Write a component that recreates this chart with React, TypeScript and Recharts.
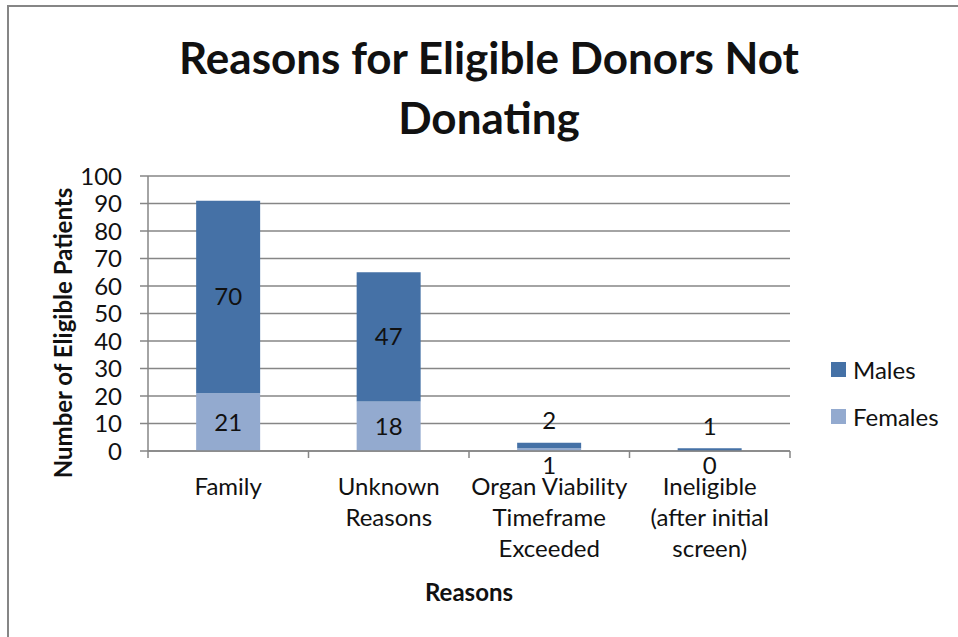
import { BarChart, Bar, XAxis, YAxis, CartesianGrid, LabelList } from 'recharts'

const categories = [
  'Family',
  'Unknown\nReasons',
  'Organ Viability\nTimeframe\nExceeded',
  'Ineligible\n(after initial\nscreen)',
]
const females = [21, 18, 1, 0]
const males = [70, 47, 2, 1]
const yTicks = [0, 10, 20, 30, 40, 50, 60, 70, 80, 90, 100]

const MALE = '#4571a6'
const FEMALE = '#93aacf'
const GRID = '#868686'
const FONT = 'Lato, "Open Sans", sans-serif'

const data = categories.map((name, i) => ({
  name,
  females: females[i],
  males: males[i],
}))

function CategoryTick(props: any) {
  const { x, y, payload, index, visibleTicksCount } = props
  const half = payload.offset || 0
  const lines = String(payload.value).split('\n')
  const axisY = y - 8
  return (
    <g>
      <line x1={x - half} x2={x - half} y1={axisY} y2={axisY + 7} stroke={GRID} strokeWidth={1.5} />
      {index === visibleTicksCount - 1 && (
        <line x1={x + half} x2={x + half} y1={axisY} y2={axisY + 7} stroke={GRID} strokeWidth={1.5} />
      )}
      <text x={x} y={axisY + 44} textAnchor="middle" fontSize={24} fontFamily={FONT} fill="#111">
        {lines.map((l, i) => (
          <tspan key={i} x={x} dy={i === 0 ? 0 : 31}>
            {l}
          </tspan>
        ))}
      </text>
    </g>
  )
}

// female labels are drawn from the male segment so a zero-height female segment still gets its label
function femaleLabel(props: any) {
  const { x, y, width, height, value, index } = props
  const perUnit = height / males[index]
  const fh = value * perUnit
  const bottom = y + height + fh
  const small = fh < 20
  const ty = small ? bottom + 15 : bottom - fh / 2
  return (
    <text x={x + width / 2} y={ty} dy="0.35em" textAnchor="middle" fontSize={24} fontFamily={FONT} fill="#111">
      {value}
    </text>
  )
}

function maleLabel(props: any) {
  const { x, y, width, height, value } = props
  const small = height < 20
  const ty = small ? y - 22 : y + height / 2
  return (
    <text x={x + width / 2} y={ty} dy="0.35em" textAnchor="middle" fontSize={24} fontFamily={FONT} fill="#111">
      {value}
    </text>
  )
}

export default function App() {
  return (
    <div style={{ position: 'absolute', left: 0, top: 0, width: 958, height: 637, overflow: 'hidden', background: '#fff', fontFamily: FONT }}>
      <div style={{ position: 'absolute', left: 7, top: 5, width: 1000, height: 700, border: `2px solid ${GRID}` }} />
      <div style={{ position: 'absolute', left: 0, top: 27, width: 978, textAlign: 'center', fontSize: 44, fontWeight: 700, lineHeight: '60px', color: '#111' }}>
        Reasons for Eligible Donors Not
        <br />
        Donating
      </div>
      <div
        style={{
          position: 'absolute',
          left: 62,
          top: 333,
          transform: 'translate(-50%, -50%) rotate(-90deg)',
          whiteSpace: 'nowrap',
          fontSize: 24,
          fontWeight: 700,
          color: '#111',
        }}
      >
        Number of Eligible Patients
      </div>
      <div style={{ position: 'absolute', left: 469, top: 591, transform: 'translate(-50%, -50%)', fontSize: 24, fontWeight: 700, color: '#111' }}>
        Reasons
      </div>
      {[
        { name: 'Males', color: MALE, y: 369 },
        { name: 'Females', color: FEMALE, y: 416 },
      ].map((it) => (
        <div key={it.name} style={{ position: 'absolute', left: 831, top: it.y - 14, height: 28, display: 'flex', alignItems: 'center', fontSize: 24, color: '#111' }}>
          <span style={{ display: 'inline-block', width: 15, height: 15, background: it.color, marginRight: 7 }} />
          {it.name}
        </div>
      ))}
      <div style={{ position: 'absolute', left: 0, top: 0 }}>
        <BarChart
          width={958}
          height={637}
          data={data}
          margin={{ top: 176, right: 168, bottom: 0, left: 88 }}
          barCategoryGap="30%"
        >
          <CartesianGrid vertical={false} stroke={GRID} strokeWidth={1.5} />
          <XAxis
            dataKey="name"
            height={186}
            axisLine={{ stroke: GRID, strokeWidth: 1.5 }}
            tickLine={false}
            tick={<CategoryTick />}
            interval={0}
          />
          <YAxis
            width={60}
            domain={[0, 100]}
            ticks={yTicks}
            interval={0}
            axisLine={{ stroke: GRID, strokeWidth: 1.5 }}
            tickLine={{ stroke: GRID, strokeWidth: 1.5 }}
            tickSize={8}
            tickMargin={18}
            tick={{ fontSize: 24, fontFamily: FONT, fill: '#111' }}
          />
          <Bar dataKey="females" stackId="a" fill={FEMALE} isAnimationActive={false} />
          <Bar dataKey="males" stackId="a" fill={MALE} isAnimationActive={false}>
            <LabelList dataKey="males" content={maleLabel} />
            <LabelList dataKey="females" content={femaleLabel} />
          </Bar>
        </BarChart>
      </div>
    </div>
  )
}
